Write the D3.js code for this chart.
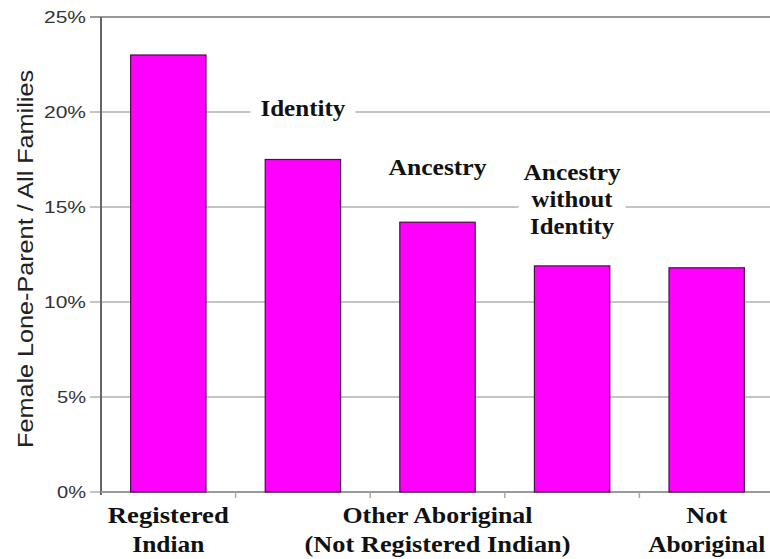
<!DOCTYPE html>
<html>
<head>
<meta charset="utf-8">
<script src="https://cdn.jsdelivr.net/npm/d3@7"></script>
<style>
  body { margin: 0; background: #fff; }
  svg { display: block; }
</style>
</head>
<body>
<svg width="770" height="559"></svg>
<script>
// data
var categories = ["Registered Indian", "Identity", "Ancestry", "Ancestry without Identity", "Not Aboriginal"];
var values = [23.0, 17.5, 14.2, 11.9, 11.8];
var yTicks = [0, 5, 10, 15, 20, 25];
var groupLabels = [["Registered", "Indian"], ["Other Aboriginal", "(Not Registered Indian)"], ["Not", "Aboriginal"]];
var groupCenters = [0, 2, 4];   // index of the bar each group label sits under
var noteLines = [["Identity"], ["Ancestry"], ["Ancestry", "without", "Identity"]];
var noteBars = [1, 2, 3];
var noteY = [19.8, 16.7, 16.4];  // baseline of first line, in %

WIDTH = 770;
HEIGHT = 559;
var plotLeft = 101, plotRight = 774, plotTop = 17, plotBottom = 492;

var svg = d3.select("svg");

var x = d3.scaleBand()
  .domain(categories)
  .range([plotLeft, plotRight])
  .paddingInner(0.44)
  .paddingOuter(0.22);
var y = d3.scaleLinear()
  .domain([0, 25])
  .range([plotBottom, plotTop]);

var serif = "'Liberation Serif', 'Times New Roman', serif";
var sans = "'Liberation Sans', Arial, sans-serif";

// gridlines + y ticks
svg.append("g")
  .selectAll("line")
  .data(yTicks)
  .enter().append("line")
  .attr("x1", plotLeft - 11)
  .attr("x2", WIDTH)
  .attr("y1", function(d) { return y(d); })
  .attr("y2", function(d) { return y(d); })
  .attr("stroke", function(d) { return d == 25 ? "#999" : "#c4c4c4"; })
  .attr("stroke-width", 2);

svg.append("g")
  .selectAll("text")
  .data(yTicks)
  .enter().append("text")
  .attr("x", 86)
  .attr("y", function(d) { return y(d) + 6; })
  .attr("text-anchor", "end")
  .attr("font-family", sans)
  .attr("font-size", 17)
  .attr("textLength", function(d) { return d < 10 ? 29 : 42; })
  .attr("lengthAdjust", "spacingAndGlyphs")
  .attr("fill", "#333")
  .text(function(d) { return d + "%"; });

// axis lines
svg.append("line")
  .attr("x1", plotLeft).attr("x2", plotLeft)
  .attr("y1", plotTop).attr("y2", plotBottom + 3)
  .attr("stroke", "#666").attr("stroke-width", 2);
svg.append("line")
  .attr("x1", plotLeft).attr("x2", WIDTH)
  .attr("y1", plotBottom).attr("y2", plotBottom)
  .attr("stroke", "#999").attr("stroke-width", 2);

// category boundary ticks
var bounds = categories.slice(1).map(function(c) {
  return x(c) - x.step() * x.paddingInner() / 2;
});
svg.append("g")
  .selectAll("line")
  .data(bounds)
  .enter().append("line")
  .attr("x1", function(d) { return d; })
  .attr("x2", function(d) { return d; })
  .attr("y1", plotBottom)
  .attr("y2", plotBottom + 6)
  .attr("stroke", "#aaa")
  .attr("stroke-width", 1.5);

// bars
svg.append("g")
  .selectAll("rect")
  .data(values)
  .enter().append("rect")
  .attr("x", function(d, i) { return x(categories[i]); })
  .attr("y", function(d) { return y(d); })
  .attr("width", x.bandwidth())
  .attr("height", function(d) { return plotBottom - y(d); })
  .attr("fill", "#ff00ff")
  .attr("stroke", "#4a1048")
  .attr("stroke-width", 1.2);

// x group labels
var xlabWidths = [[121, 72], [190, 266], [41, 117]];
groupLabels.forEach(function(lines, gi) {
  var cx = x(categories[groupCenters[gi]]) + x.bandwidth() / 2;
  lines.forEach(function(t, li) {
    svg.append("text")
      .attr("x", cx)
      .attr("y", 523 + li * 28.5)
      .attr("text-anchor", "middle")
      .attr("font-family", serif)
      .attr("font-weight", "bold")
      .attr("font-size", 23)
      .attr("textLength", xlabWidths[gi][li])
      .attr("lengthAdjust", "spacingAndGlyphs")
      .attr("fill", "#111")
      .text(t);
  });
});

// annotations with white boxes
var noteWidths = [[85], [98], [97, 81, 84]];
var boxes = [[105, 36], [0, 0], [107, 92]];
noteLines.forEach(function(lines, ni) {
  var cx = x(categories[noteBars[ni]]) + x.bandwidth() / 2;
  var by = y(noteY[ni]);
  var g = svg.append("g");
  if (boxes[ni][0] > 0) {
    g.append("rect")
      .attr("x", cx - boxes[ni][0] / 2)
      .attr("y", by - 24)
      .attr("width", boxes[ni][0])
      .attr("height", boxes[ni][1])
      .attr("fill", "#fff");
  }
  lines.forEach(function(t, li) {
    g.append("text")
      .attr("x", cx)
      .attr("y", by + li * 27)
      .attr("text-anchor", "middle")
      .attr("font-family", serif)
      .attr("font-weight", "bold")
      .attr("font-size", 23)
      .attr("textLength", noteWidths[ni][li])
      .attr("lengthAdjust", "spacingAndGlyphs")
      .attr("fill", "#111")
      .text(t);
  });
});

// y title
svg.append("text")
  .attr("transform", "translate(33," + ((70 + 448) / 2) + ") rotate(-90)")
  .attr("text-anchor", "middle")
  .attr("font-family", sans)
  .attr("font-size", 22)
  .attr("textLength", 378)
  .attr("lengthAdjust", "spacingAndGlyphs")
  .attr("fill", "#222")
  .text("Female Lone-Parent / All Families");
</script>
</body>
</html>
